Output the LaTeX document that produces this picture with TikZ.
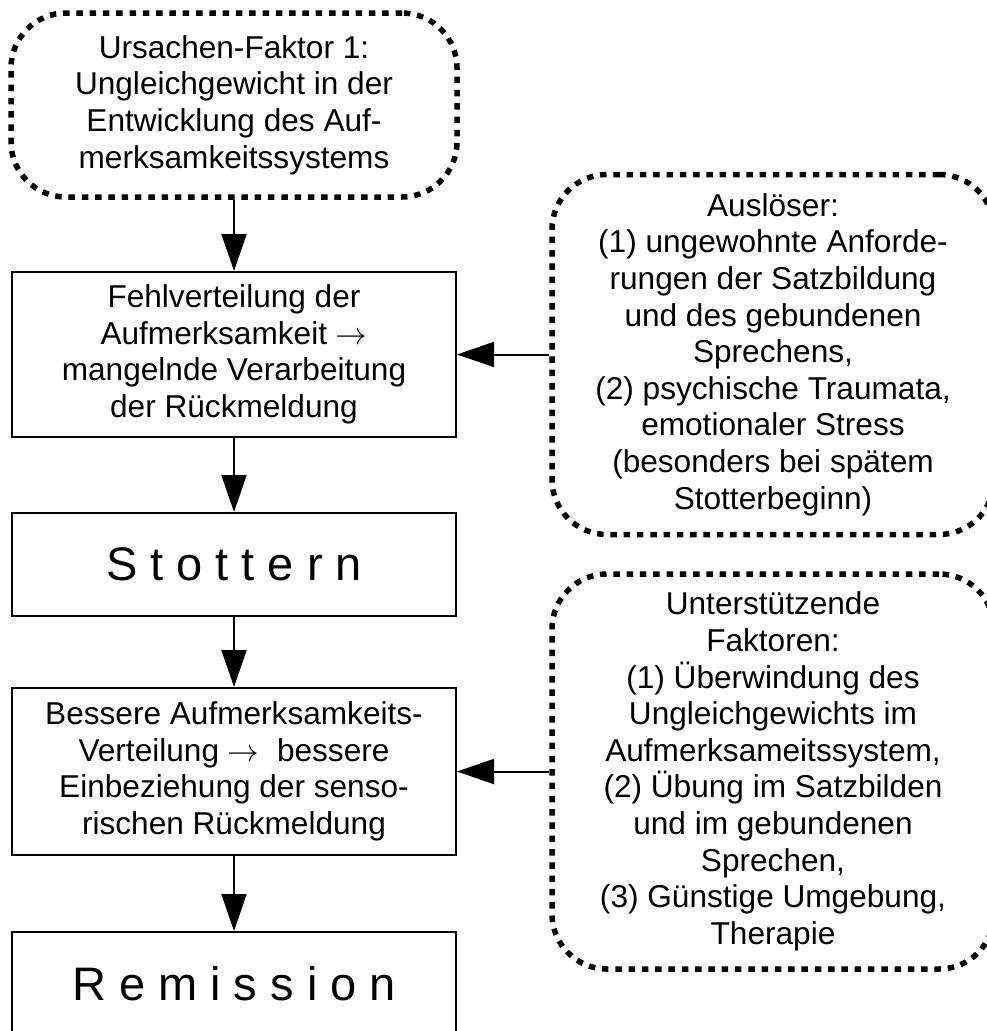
\RequirePackage{fix-cm}
\documentclass[tikz,border=0pt]{standalone}
\usepackage{fontspec}
\setmainfont{Liberation Sans}
\usetikzlibrary{arrows.meta}

\tikzset{
  base/.style={align=center, inner sep=0pt, font=\fontsize{31.6}{36.6}\selectfont},
  dotbox/.style={base, draw, line width=5.5pt, dash pattern=on 6.5pt off 6.8pt, rounded corners=55pt},
  flowbox/.style={base, draw, line width=2pt, minimum width=444pt},
  bigtext/.style={font=\fontsize{47}{56}\selectfont},
  arr/.style={line width=2pt, -{Triangle[length=37pt,width=25pt]}}
}

\begin{document}
\begin{tikzpicture}[x=1pt, y=-1pt]
    \useasboundingbox (0, 0) rectangle (987, 1031);
    % CAUSE
    \node[dotbox, minimum width=446pt, minimum height=184pt] (cause) at (234, 105)
        {Ursachen-Faktor 1:\\Ungleichgewicht in der\\Entwicklung des Auf-\\merksamkeitssystems};
    % MAIN CHAIN
    \node[flowbox, minimum height=165pt] (misalloc) at (234, 354.5)
        {Fehlverteilung der\\Aufmerksamkeit $\rightarrow$\\mangelnde Verarbeitung\\der Rückmeldung};
    \node[flowbox, bigtext, minimum height=103pt] (stutter) at (234, 564.5) {S t o t t e r n};
    \node[flowbox, minimum height=167pt] (better) at (234, 771.5)
        {Bessere Aufmerksamkeits-\\Verteilung $\rightarrow$~ bessere\\Einbeziehung der senso-\\rischen Rückmeldung};
    \node[flowbox, bigtext, minimum height=103pt] (remission) at (234, 983.5) {R e m i s s i o n};
    % SIDE FACTORS
    \node[dotbox, minimum width=442pt, minimum height=360pt] (trigger) at (773, 354.5)
        {Auslöser:\\(1) ungewohnte Anforde-\\rungen der Satzbildung\\und des gebundenen\\Sprechens,\\(2) psychische Traumata,\\emotionaler Stress\\(besonders bei spätem\\Stotterbeginn)};
    \node[dotbox, minimum width=442pt, minimum height=395pt] (support) at (773, 771.5)
        {Unterstützende\\Faktoren:\\(1) Überwindung des\\Ungleichgewichts im\\Aufmerksameitssystem,\\(2) Übung im Satzbilden\\und im gebundenen\\Sprechen,\\(3) Günstige Umgebung,\\Therapie};
    % ARROWS
    \draw[arr] (cause) -- (misalloc);
    \draw[arr] (misalloc) -- (stutter);
    \draw[arr] (stutter) -- (better);
    \draw[arr] (better) -- (remission);
    \draw[arr] (trigger.west) -- (misalloc.east);
    \draw[arr] (support.west) -- (better.east);
\end{tikzpicture}
\end{document}
